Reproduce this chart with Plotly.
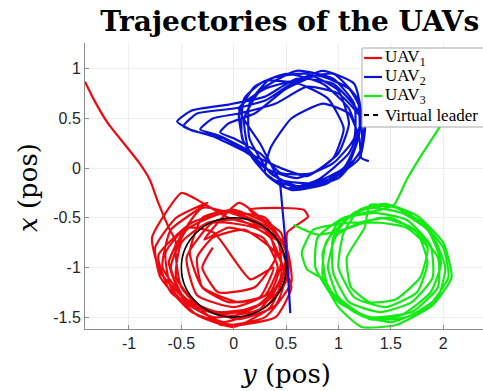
import plotly.graph_objects as go

# ---------------- data ----------------
uav1_y = [-1.42, -1.33, -1.2, -1.05, -0.9, -0.8, -0.72, -0.62, -0.55,
          -0.62, -0.48, -0.08, 0.33, 0.5, 0.36, -0.02, -0.4,
          -0.72, -0.6, -0.2, 0.25, 0.45, 0.42, 0.1, -0.3,
          -0.55, -0.5, -0.12, 0.3, 0.55, 0.5, 0.2, -0.2,
          -0.45, -0.35, 0.0, 0.35, 0.45, 0.3, -0.05, -0.38, -0.5,
          -0.78, -0.7, -0.4, 0.05, 0.4, 0.52, 0.45, 0.15, 0.4, 0.67, 0.71, 0.51,
          0.52, 0.3, -0.1, -0.45, -0.6, -0.45, -0.1,
          0.3, 0.5, 0.42, 0.1, -0.3, -0.55, -0.5, -0.25,
          0.05, 0.35, 0.48, 0.35, 0.0, -0.35, -0.6, -0.65, -0.45,
          -0.19, 0.16, 0.38, 0.25, -0.05, -0.3, -0.35, -0.2,
          0.1, 0.4, 0.55, 0.4, 0.0, -0.4, -0.7, -0.75, -0.55, -0.25,
          -0.6, -0.68, -0.45, -0.15, 0.2, 0.45, 0.5, 0.3, 0.0, -0.3,
          -0.42, -0.3, 0.05, 0.3, 0.42, 0.28, -0.05, -0.28,
          0.05, 0.3, 0.4, 0.2, -0.15, -0.3, -0.2]
uav1_x = [0.87, 0.68, 0.45, 0.25, 0.05, -0.12, -0.35, -0.6, -0.75,
          -0.95, -1.32, -1.47, -1.33, -0.98, -0.62, -0.44, -0.55,
          -0.88, -1.25, -1.5, -1.42, -1.1, -0.72, -0.5, -0.4,
          -0.78, -1.2, -1.58, -1.5, -1.15, -0.8, -0.6, -0.55,
          -0.9, -1.28, -1.4, -1.25, -0.95, -0.62, -0.5, -0.3, -0.25,
          -0.7, -1.05, -1.38, -1.52, -1.38, -1.0, -0.65, -0.42, -0.4, -0.42, -0.49, -0.65,
          -1.1, -1.4, -1.55, -1.35, -1.0, -0.62, -0.45,
          -0.5, -0.85, -1.25, -1.45, -1.42, -1.1, -0.75, -0.55,
          -0.52, -0.7, -1.05, -1.4, -1.6, -1.48, -1.2, -0.85, -0.6,
          -0.65, -1.12, -1.0, -1.3, -1.35, -1.2, -0.9, -0.7,
          -0.62, -0.85, -1.2, -1.5, -1.58, -1.45, -1.1, -0.8, -0.5, -0.35,
          -0.62, -1.0, -1.32, -1.45, -1.4, -1.15, -0.8, -0.55, -0.42, -0.5,
          -0.85, -1.2, -1.35, -1.28, -1.0, -0.7, -0.6, -0.72,
          -0.35, -0.55, -0.9, -1.2, -1.25, -1.0, -0.8]

uav2_y = [0.54, 0.52, 0.49, 0.46, 0.44, 0.4,
          0.3, 0.1, 0.05, 0.2, 0.5, 0.85, 1.1, 1.18, 1.05, 0.75, 0.45,
          0.2, -0.1, -0.4, -0.54, -0.4, -0.05, 0.3, 0.6, 0.95, 1.2, 1.22, 1.0, 0.65, 0.35,
          0.15, 0.1, 0.25, 0.6, 0.95, 1.15, 1.15, 0.95, 0.6, 0.3,
          0.1, -0.15, -0.32, -0.2, 0.05, 0.4, 0.7, 1.0, 1.25, 1.2, 0.95, 0.6,
          0.35, 0.15, 0.15, 0.35, 0.7, 1.0, 1.1, 1.0, 0.75, 0.45,
          0.25, 0.0, -0.13, -0.05, 0.2, 0.5, 0.8, 1.1, 1.25, 1.2, 0.9, 0.55,
          0.3, 0.08, 0.1, 0.3, 0.62, 0.9, 1.05, 0.95, 0.7, 0.45,
          0.2, -0.2, -0.48, -0.35, 0.0, 0.3, 0.55, 0.85, 1.15, 1.22, 1.1, 0.8, 0.5,
          0.25, 0.05, 0.3, 0.65, 0.95, 1.18, 1.2, 1.1, 0.85, 0.5, 0.3,
          0.35, 0.55, 0.85, 1.1, 1.2, 1.22, 1.29]
uav2_x = [-1.46, -1.1, -0.7, -0.35, -0.15, -0.05,
          0.0, 0.25, 0.55, 0.82, 0.95, 0.85, 0.6, 0.3, 0.0, -0.15, -0.12,
          0.1, 0.3, 0.38, 0.47, 0.58, 0.64, 0.72, 0.9, 0.85, 0.55, 0.2, -0.1, -0.2, -0.1,
          0.15, 0.5, 0.78, 0.98, 0.9, 0.65, 0.3, 0.05, -0.1, 0.0,
          0.2, 0.33, 0.39, 0.5, 0.55, 0.65, 0.82, 0.75, 0.45, 0.1, -0.1, -0.18,
          -0.05, 0.3, 0.65, 0.9, 0.95, 0.78, 0.45, 0.15, -0.05, -0.05,
          0.15, 0.3, 0.36, 0.45, 0.55, 0.8, 0.93, 0.8, 0.5, 0.15, -0.15, -0.22,
          -0.05, 0.3, 0.7, 0.88, 0.85, 0.7, 0.4, 0.1, -0.08, 0.0,
          0.12, 0.32, 0.42, 0.55, 0.6, 0.68, 0.85, 0.98, 0.85, 0.5, 0.15, -0.12, -0.2,
          0.25, 0.6, 0.8, 0.9, 0.95, 0.7, 0.35, 0.05, -0.15, -0.2, -0.05,
          0.2, 0.5, 0.65, 0.55, 0.3, 0.1, 0.07]

uav3_y = [2.45, 2.2, 1.97, 1.78, 1.65, 1.53,
          1.4, 1.05, 0.8, 0.78, 0.95, 1.25, 1.6, 1.88, 1.98, 1.85, 1.6,
          1.3, 1.0, 0.85, 0.9, 1.15, 1.5, 1.85, 2.05, 2.0, 1.8, 1.5,
          1.15, 0.95, 0.95, 1.1, 1.4, 1.7, 1.9, 1.88, 1.65, 1.35,
          1.1, 0.88, 0.85, 1.0, 1.22, 1.55, 1.9, 2.08, 2.0, 1.75, 1.45,
          1.2, 1.05, 1.0, 1.15, 1.45, 1.75, 1.85, 1.75, 1.5, 1.2,
          0.98, 0.9, 1.0, 1.3, 1.65, 1.95, 2.02, 1.9, 1.62, 1.3,
          1.25, 1.08, 1.12, 1.3, 1.55, 1.78, 1.85, 1.65, 1.4,
          1.1, 0.76, 0.65, 0.7, 0.86, 1.0, 1.3, 1.7, 1.95, 1.95, 1.7, 1.4, 1.05, 0.8, 0.57]
uav3_x = [1.22, 0.85, 0.42, 0.11, -0.12, -0.37,
          -0.42, -0.5, -0.7, -1.0, -1.3, -1.5, -1.48, -1.25, -0.95, -0.62, -0.45,
          -0.4, -0.55, -0.85, -1.2, -1.45, -1.55, -1.4, -1.1, -0.8, -0.55, -0.38,
          -0.45, -0.7, -1.05, -1.35, -1.45, -1.35, -1.1, -0.78, -0.52, -0.45,
          -0.5, -0.75, -1.1, -1.4, -1.6, -1.58, -1.38, -1.1, -0.75, -0.48, -0.36,
          -0.42, -0.65, -1.0, -1.3, -1.4, -1.25, -0.95, -0.65, -0.5, -0.55,
          -0.68, -1.0, -1.3, -1.52, -1.5, -1.3, -1.0, -0.68, -0.42, -0.37,
          -0.6, -0.9, -1.2, -1.35, -1.32, -1.1, -0.8, -0.6, -0.55,
          -0.55, -0.62, -0.85, -1.02, -1.12, -1.35, -1.5, -1.45, -1.2, -0.9, -0.6, -0.5, -0.62, -0.67, -0.57]

leader_center_y = 0.0
leader_center_x = -1.0
leader_radius = 0.5

series_names = ["UAV<sub>1</sub>", "UAV<sub>2</sub>", "UAV<sub>3</sub>"]
leader_name = "Virtual leader"

x_ticks = [-1, -0.5, 0, 0.5, 1, 1.5, 2]
y_ticks = [-1.5, -1, -0.5, 0, 0.5, 1]

# ---------------- figure ----------------
colors = ["rgb(235,10,15)", "rgb(10,20,215)", "rgb(20,235,20)"]
serif = "DejaVu Serif"
leg_font = "Liberation Serif"

W, H = 483, 391
ML, MR, MT, MB = 85, 0, 43, 62
PW, PH = W - ML - MR, H - MT - MB


def px_x(p):
    return (p - ML) / PW


def px_y(p):
    return (H - MB - p) / PH


fig = go.Figure()
for name, xs, ys, c in zip(series_names, [uav1_y, uav2_y, uav3_y],
                           [uav1_x, uav2_x, uav3_x], colors):
    fig.add_trace(go.Scatter(x=xs, y=ys, mode="lines", name=name, showlegend=False,
                             line=dict(color=c, width=2.2, shape="spline", smoothing=0.5)))

fig.add_shape(type="circle", xref="x", yref="y",
              x0=leader_center_y - leader_radius, x1=leader_center_y + leader_radius,
              y0=leader_center_x - leader_radius, y1=leader_center_x + leader_radius,
              line=dict(color="black", width=1.6), layer="above")

# ---- legend box (MATLAB style: short samples, text close) ----
leg_left, leg_top, leg_bottom = 362, 48, 127
row_y = [58, 77, 96, 115]
fig.add_shape(type="rect", xref="paper", yref="paper",
              x0=px_x(leg_left), x1=px_x(W + 2), y0=px_y(leg_bottom), y1=px_y(leg_top),
              fillcolor="white", line=dict(color="#a8a8a8", width=1), layer="above")
entry_colors = colors + ["black"]
entry_names = series_names + [leader_name]
for i, (nm, c) in enumerate(zip(entry_names, entry_colors)):
    fig.add_shape(type="line", xref="paper", yref="paper",
                  x0=px_x(leg_left + 2), x1=px_x(leg_left + 20),
                  y0=px_y(row_y[i]), y1=px_y(row_y[i]),
                  line=dict(color=c, width=2.2 if i < 3 else 1.8,
                            dash="solid" if i < 3 else "5px,4px"),
                  layer="above")
    fig.add_annotation(text=nm, xref="paper", yref="paper", x=px_x(leg_left + 21), y=px_y(row_y[i]),
                       xanchor="left", yanchor="middle", showarrow=False,
                       font=dict(family=leg_font, size=17, color="black"))

# ---- axis labels ----
fig.add_annotation(text="<i>y</i> (pos)", xref="paper", yref="paper", x=px_x(286), y=px_y(374),
                   xanchor="center", yanchor="middle", showarrow=False,
                   font=dict(family=serif, size=26, color="black"))
fig.add_annotation(text="<i>x</i> (pos)", xref="paper", yref="paper", x=px_x(28), y=px_y(187),
                   xanchor="center", yanchor="middle", showarrow=False, textangle=-90,
                   font=dict(family=serif, size=26, color="black"))

axis_common = dict(showgrid=True, gridcolor="#eeeeee", gridwidth=1,
                   showline=True, linecolor="#8c8c8c", linewidth=1,
                   ticks="inside", ticklen=4, tickcolor="#8c8c8c",
                   zeroline=False, tickfont=dict(family="Liberation Sans", size=16, color="#262626"))

fig.update_layout(
    width=W, height=H,
    margin=dict(l=ML, r=MR, t=MT, b=MB, autoexpand=False),
    paper_bgcolor="white", plot_bgcolor="white",
    showlegend=False,
    title=dict(text="<b>Trajectories of the UAVs</b>", x=0.6, xref="container", xanchor="center",
               y=0.945, yref="container", yanchor="middle",
               font=dict(family=serif, size=28, color="black")),
    xaxis=dict(range=[-1.42, 2.38], tickvals=x_ticks, ticktext=[str(v) for v in x_ticks],
               **axis_common),
    yaxis=dict(range=[-1.62, 1.26], tickvals=y_ticks, ticktext=[str(v) for v in y_ticks],
               **axis_common),
)

fig.write_html("out.html")
